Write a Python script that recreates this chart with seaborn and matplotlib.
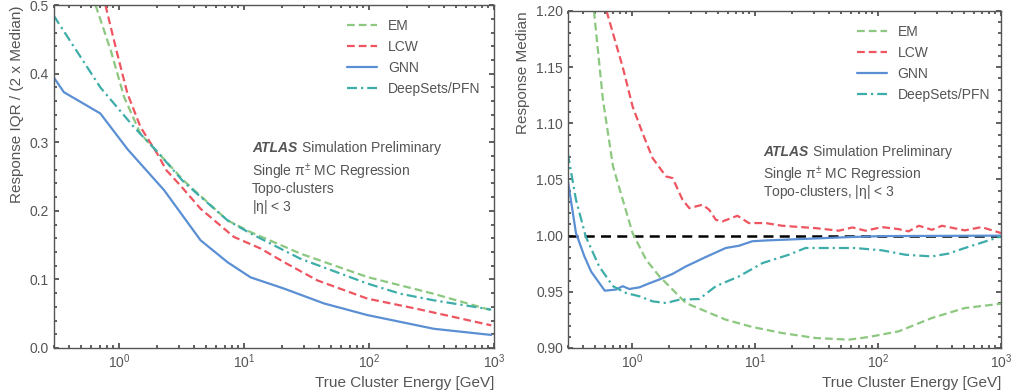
import numpy as np
import pandas as pd
import matplotlib
matplotlib.use("Agg")
import matplotlib.pyplot as plt
import seaborn as sns

# ---- left panel: response IQR / (2 x median) ----
iqr_em_E = [0.65, 0.86, 1.1, 1.49, 2.03, 3.3, 7.4, 11.3, 28.4, 97, 330, 950]
iqr_em = [0.5, 0.434, 0.366, 0.312, 0.286, 0.244, 0.186, 0.169, 0.1375, 0.1035, 0.079, 0.055]

iqr_lcw_E = [0.78, 0.97, 1.17, 1.49, 2.03, 2.4, 3.1, 4.5, 8.3, 13.6, 21, 38.6, 97, 243, 540, 950]
iqr_lcw = [0.5, 0.429, 0.371, 0.322, 0.283, 0.259, 0.237, 0.203, 0.162, 0.145, 0.125, 0.0986,
           0.072, 0.057, 0.043, 0.033]

iqr_gnn_E = [0.3, 0.363, 0.71, 1.17, 2.3, 4.5, 7.4, 11.3, 21, 43.6, 97, 179, 330, 950]
iqr_gnn = [0.395, 0.373, 0.342, 0.29, 0.23, 0.157, 0.125, 0.103, 0.0865, 0.065, 0.048, 0.038,
           0.028, 0.019]

iqr_ds_E = [0.3, 0.71, 1.32, 2.03, 3.3, 7.4, 11.3, 28.4, 97, 179, 330, 950]
iqr_ds = [0.485, 0.38, 0.322, 0.286, 0.242, 0.186, 0.167, 0.130, 0.094, 0.079, 0.0695, 0.056]

# ---- right panel: response median ----
med_em_E = [0.49, 0.58, 0.70, 0.84, 1.01, 1.30, 1.67, 2.14, 2.74, 3.98, 5.78, 9.5, 16.6, 31,
            58, 84, 147, 274, 509, 1000]
med_em = [1.2, 1.121, 1.0616, 1.032, 1.0023, 0.9786, 0.9637, 0.9519, 0.940, 0.9326, 0.9252,
          0.9187, 0.9133, 0.9089, 0.9074, 0.9098, 0.9148, 0.9267, 0.9356, 0.9394]

med_lcw_E = [0.62, 0.84, 1.01, 1.22, 1.47, 1.89, 2.14, 2.57, 2.92, 3.74, 4.24, 4.8, 5.44, 7.2,
             8.9, 12.2, 16.6, 31, 48, 62, 79, 108, 147, 177, 215, 274, 331, 509, 694, 1000]
med_lcw = [1.2, 1.150, 1.115, 1.091, 1.069, 1.0527, 1.0512, 1.032, 1.0245, 1.0275, 1.023,
           1.0141, 1.0127, 1.0177, 1.0112, 1.0112, 1.0088, 1.0067, 1.0044, 1.0073, 1.0044,
           1.0076, 1.0058, 1.0038, 1.0088, 1.0052, 1.0088, 1.0047, 1.0076, 1.0023]

med_gnn_E = [0.3, 0.35, 0.41, 0.465, 0.60, 0.74, 0.84, 0.95, 1.15, 1.34, 1.67, 2.14, 2.74,
             3.98, 5.78, 7.4, 9.5, 12.2, 16.6, 31, 58, 108, 1000]
med_gnn = [1.0497, 1.0023, 0.9815, 0.968, 0.951, 0.952, 0.955, 0.9525, 0.954, 0.957, 0.961,
           0.966, 0.9726, 0.981, 0.989, 0.991, 0.995, 0.9957, 0.9963, 0.9975, 0.9987, 0.9996, 1.0]

med_ds_E = [0.3, 0.35, 0.42, 0.54, 0.70, 0.89, 1.15, 1.47, 1.89, 2.42, 3.52, 4.8, 7.4, 11.5,
            18.8, 25.7, 42, 65, 108, 167, 274, 373, 509, 1000]
med_ds = [1.0734, 1.032, 0.9993, 0.9726, 0.955, 0.949, 0.946, 0.9415, 0.940, 0.943, 0.9436,
          0.955, 0.9637, 0.9756, 0.983, 0.989, 0.989, 0.989, 0.9869, 0.983, 0.9815, 0.984,
          0.989, 0.9993]

labels = ["EM", "LCW", "GNN", "DeepSets/PFN"]
colors = ["#8cc880", "#ee5560", "#5b8fd4", "#3eadaa"]
styles = [(0, (3.5, 1.8)), (0, (3.5, 1.8)), "-", (0, (4.5, 1.8, 1.0, 1.8))]

sns.set_style("ticks")
plt.rcParams["font.family"] = ["Liberation Sans", "DejaVu Sans"]
plt.rcParams["mathtext.default"] = "regular"
grey = "#555555"
plt.rcParams["text.color"] = grey
plt.rcParams["axes.labelcolor"] = grey
plt.rcParams["xtick.color"] = "#444444"
plt.rcParams["ytick.color"] = "#444444"
plt.rcParams["xtick.labelcolor"] = grey
plt.rcParams["ytick.labelcolor"] = grey
plt.rcParams["axes.edgecolor"] = "#555555"

fig = plt.figure(figsize=(10.14, 3.91), dpi=100)
ax1 = fig.add_axes([0.0528, 0.110, 0.4344, 0.877])
ax2 = fig.add_axes([0.5599, 0.110, 0.4273, 0.862])

left_data = [(iqr_em_E, iqr_em), (iqr_lcw_E, iqr_lcw), (iqr_gnn_E, iqr_gnn), (iqr_ds_E, iqr_ds)]
right_data = [(med_em_E, med_em), (med_lcw_E, med_lcw), (med_gnn_E, med_gnn), (med_ds_E, med_ds)]

for ax, data in [(ax1, left_data), (ax2, right_data)]:
    for (xe, yv), lab, c, ls in zip(data, labels, colors, styles):
        sns.lineplot(x=xe, y=yv, ax=ax, color=c, linestyle=ls, linewidth=1.6,
                     label=lab, estimator=None, sort=False)

ax2.axhline(1.0, color="black", linestyle=(0, (4, 2.5)), linewidth=1.8, zorder=1.5)

for ax in [ax1, ax2]:
    ax.set_xscale("log")
    ax.set_xlim(0.3, 1000)
    ax.tick_params(which="both", direction="in", top=True, right=True, labelsize=10)
    ax.tick_params(which="major", length=3.5, width=1.2)
    ax.tick_params(which="minor", length=2.0, width=1.2)
    ax.set_xlabel("True Cluster Energy [GeV]", fontsize=11, loc="right", labelpad=3)
    for s in ax.spines.values():
        s.set_linewidth(1)

ax1.set_ylim(0, 0.5)
ax1.set_yticks([0.0, 0.1, 0.2, 0.3, 0.4, 0.5])
ax1.set_yticklabels(["0.0", "0.1", "0.2", "0.3", "0.4", "0.5"])
ax1.yaxis.set_minor_locator(matplotlib.ticker.MultipleLocator(0.02))
ax1.set_ylabel("Response IQR / (2 x Median)", fontsize=11, loc="top")

ax2.set_ylim(0.9, 1.2)
ax2.set_yticks([0.90, 0.95, 1.00, 1.05, 1.10, 1.15, 1.20])
ax2.set_yticklabels(["0.90", "0.95", "1.00", "1.05", "1.10", "1.15", "1.20"])
ax2.yaxis.set_minor_locator(matplotlib.ticker.MultipleLocator(0.01))
ax2.set_ylabel("Response Median", fontsize=11, loc="top")

leg_kw = dict(loc="upper left", frameon=False, fontsize=10, handlelength=2.2,
              handletextpad=0.75, labelspacing=0.5, borderpad=0, borderaxespad=0)
ax1.legend(bbox_to_anchor=(0.666, 0.96), **leg_kw)
ax2.legend(bbox_to_anchor=(0.667, 0.958), **leg_kw)


def atlas_label(ax, y0, lines):
    t = ax.text(0.451, y0, "ATLAS", transform=ax.transAxes, fontsize=10, fontweight="bold",
                fontstyle="italic", va="center")
    ax.annotate("Simulation Preliminary", xy=(1, 0.5), xycoords=t, xytext=(3, 0),
                textcoords="offset points", fontsize=10, va="center", color=grey)
    for txt, yy in lines:
        ax.text(0.451, yy, txt, transform=ax.transAxes, fontsize=10, va="center")


atlas_label(ax1, 0.584, [(r"Single $\pi^{\pm}$ MC Regression", 0.514),
                         ("Topo-clusters", 0.4636),
                         (r"|$\eta$| < 3", 0.412)])
atlas_label(ax2, 0.5825, [(r"Single $\pi^{\pm}$ MC Regression", 0.513),
                          (r"Topo-clusters, |$\eta$| < 3", 0.462)])

fig.savefig("out.png", dpi=100)
